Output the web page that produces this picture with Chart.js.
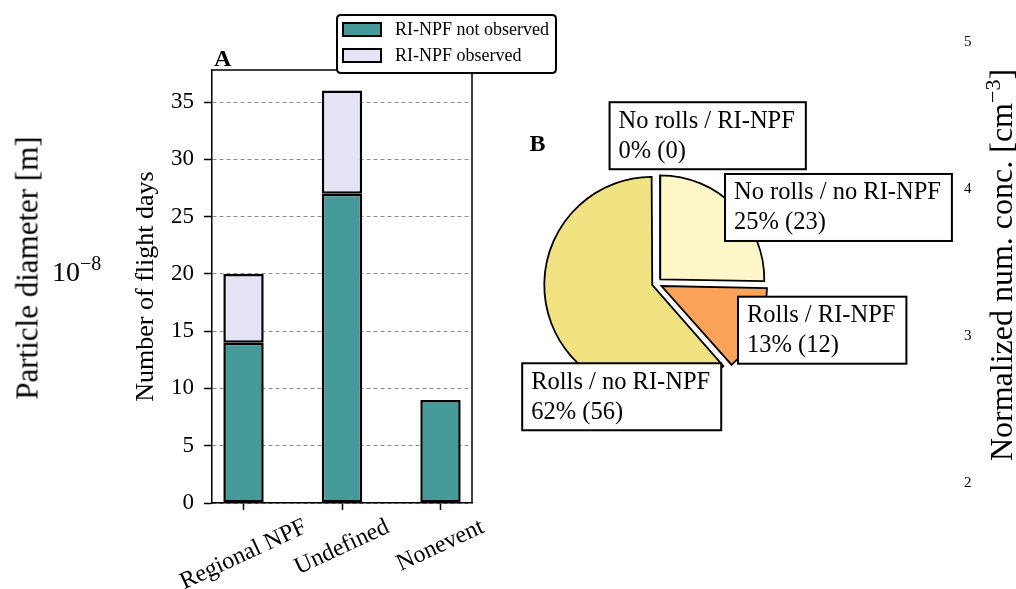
<!DOCTYPE html>
<html><head><meta charset="utf-8">
<script src="https://cdn.jsdelivr.net/npm/chart.js@4.4.1/dist/chart.umd.min.js"></script>
<style>
html,body{margin:0;padding:0;background:#fff;width:1016px;height:589px;overflow:hidden;font-family:'Liberation Serif','Times New Roman',serif;color:#000;}
#barWrap{position:absolute;left:0;top:0;width:560px;height:589px;}
#pieWrap{position:absolute;left:0;top:0;width:1016px;height:589px;}
.txt{position:absolute;white-space:nowrap;line-height:1;}
.rot{transform:translate(-50%,-50%) rotate(-90deg);}
.dig{position:absolute;font-size:15px;line-height:1;transform:translateY(-50%);}
</style></head><body>
<div id="barWrap"><canvas id="bar"></canvas></div>
<div id="pieWrap"><canvas id="pie"></canvas></div>
<div class="txt rot" style="left:27px;top:268px;font-size:31px;">Particle diameter [m]</div>
<div class="txt" style="left:52px;top:258px;font-size:28px;">10<span style="position:relative;top:-11px;font-size:20px;">−8</span></div>
<div class="txt rot" style="left:1001px;top:265px;font-size:32px;">Normalized num. conc. [cm<span style="position:relative;top:-12px;font-size:22px;">−3</span>]</div>
<div class="dig" style="left:964px;top:41px;">5</div>
<div class="dig" style="left:964px;top:188px;">4</div>
<div class="dig" style="left:964px;top:335px;">3</div>
<div class="dig" style="left:964px;top:482px;">2</div>
<script>
// ---- data ----
const categories = ['Regional NPF', 'Undefined', 'Nonevent'];
const notObserved = [14, 27, 9];
const observed = [6, 9, 0];
const seriesNames = ['RI-NPF not observed', 'RI-NPF observed'];
const yTicks = [0, 5, 10, 15, 20, 25, 30, 35];

const pieLabels = ['No rolls / RI-NPF', 'No rolls / no RI-NPF', 'Rolls / RI-NPF', 'Rolls / no RI-NPF'];
const pieCounts = [0, 23, 12, 56];

const SERIF = "'Liberation Serif','Times New Roman',serif";
const teal = '#479a9a', lav = '#e4e4f6';

const barDecor = {
  id: 'barDecor',
  afterDraw(chart) {
    const {ctx, chartArea: a, scales: {x}} = chart;
    ctx.save();
    ctx.strokeStyle = '#000'; ctx.lineWidth = 1.5;
    ctx.beginPath(); ctx.moveTo(a.left, a.top); ctx.lineTo(a.right, a.top); ctx.lineTo(a.right, a.bottom); ctx.stroke();
    // rotated category labels, centred under ticks
    ctx.font = '24px ' + SERIF; ctx.fillStyle = '#000';
    const th = 25 * Math.PI / 180;
    categories.forEach((c, i) => {
      const px = x.getPixelForValue(i);
      const w = ctx.measureText(c).width, h = 24;
      const H = w * Math.sin(th) + h * Math.cos(th);
      const top = a.bottom + 7 + 5;
      ctx.save(); ctx.translate(px, top + H / 2); ctx.rotate(-th);
      ctx.textAlign = 'center'; ctx.textBaseline = 'middle'; ctx.fillText(c, 0, 0); ctx.restore();
    });
    // panel letter
    ctx.font = 'bold 24px ' + SERIF; ctx.textAlign = 'left'; ctx.textBaseline = 'alphabetic';
    ctx.fillText('A', a.left + 2, a.top - 4);
    // legend
    const L = a.left + 125, T = 15;
    ctx.font = '18px ' + SERIF;
    const ds = chart.data.datasets;
    const tw = Math.max(...ds.map(d => ctx.measureText(d.label).width));
    const W = 58 + tw + 7, Hh = 58, r = 4;
    ctx.beginPath();
    ctx.moveTo(L + r, T); ctx.lineTo(L + W - r, T); ctx.quadraticCurveTo(L + W, T, L + W, T + r);
    ctx.lineTo(L + W, T + Hh - r); ctx.quadraticCurveTo(L + W, T + Hh, L + W - r, T + Hh);
    ctx.lineTo(L + r, T + Hh); ctx.quadraticCurveTo(L, T + Hh, L, T + Hh - r);
    ctx.lineTo(L, T + r); ctx.quadraticCurveTo(L, T, L + r, T); ctx.closePath();
    ctx.fillStyle = '#fff'; ctx.fill(); ctx.lineWidth = 2; ctx.strokeStyle = '#000'; ctx.stroke();
    ds.forEach((d, i) => {
      const cy = T + 15 + i * 26;
      ctx.fillStyle = d.backgroundColor; ctx.fillRect(L + 6, cy - 7, 38, 13);
      ctx.lineWidth = 2; ctx.strokeRect(L + 6, cy - 7, 38, 13);
      ctx.fillStyle = '#000'; ctx.textBaseline = 'middle'; ctx.fillText(d.label, L + 58, cy);
    });
    ctx.restore();
  }
};

new Chart(document.getElementById('bar'), {
  type: 'bar',
  data: {
    datasets: [
      {label: seriesNames[0], data: notObserved.map((v, i) => ({x: i, y: v})), backgroundColor: teal},
      {label: seriesNames[1], data: observed.map((v, i) => ({x: i, y: v})), backgroundColor: lav}
    ]
  },
  options: {
    responsive: true, maintainAspectRatio: false, animation: false,
    datasets: {bar: {borderColor: '#000', borderWidth: 2.5, borderSkipped: false, categoryPercentage: 1, barPercentage: 0.41}},
    layout: {padding: {left: 130, top: 70, right: 88, bottom: 0}},
    plugins: {legend: {display: false}, tooltip: {enabled: false}},
    scales: {
      x: {
        type: 'linear', stacked: true, min: -0.32, max: 2.32, offset: false,
        afterBuildTicks: s => { s.ticks = categories.map((c, i) => ({value: i})); },
        afterFit: s => { s.height = 86; },
        ticks: {display: false},
        grid: {offset: false, drawOnChartArea: false, drawTicks: true, tickLength: 7, tickColor: '#000', tickWidth: 1.5},
        border: {color: '#000', width: 1.5}
      },
      y: {
        stacked: true, min: 0, max: 37.8,
        afterBuildTicks: s => { s.ticks = yTicks.map(v => ({value: v})); },
        afterFit: s => { s.width = 82; },
        ticks: {color: '#000', font: {family: SERIF, size: 23}, padding: 10},
        grid: {color: '#8c8c8c', lineWidth: 1, tickLength: 8, tickColor: '#000', tickWidth: 1.5, tickBorderDash: []},
        border: {color: '#000', width: 1.5, dash: [4, 3]},
        title: {display: true, text: 'Number of flight days', color: '#000', font: {family: SERIF, size: 26}, padding: {top: 1, bottom: 0}}
      }
    }
  },
  plugins: [barDecor]
});

// ---- pie ----
const pieColors = ['#f2a0a0', '#fdf7c8', '#fca35a', '#f1e282'];
const labelAnchors = [[-0.36, -1.57], [0.75, -0.88], [0.875, 0.30], [-1.20, 0.94]];
const pieDecor = {
  id: 'pieDecor',
  afterDraw(chart) {
    const {ctx} = chart;
    const meta = chart.getDatasetMeta(0);
    const arc0 = meta.data[0];
    const cx = arc0.x, cy = arc0.y, R = arc0.outerRadius;
    const total = pieCounts.reduce((s, v) => s + v, 0);
    ctx.save();
    // zero-width wedge outline
    const off = 5;
    ctx.strokeStyle = '#000'; ctx.lineWidth = 1.5;
    const ang = arc0.startAngle;
    ctx.beginPath();
    ctx.moveTo(cx + Math.cos(ang) * off + 4, cy + Math.sin(ang) * off);
    ctx.lineTo(cx + Math.cos(ang) * (off + R) + 4, cy + Math.sin(ang) * (off + R));
    ctx.stroke();
    // panel letter
    ctx.fillStyle = '#000'; ctx.font = 'bold 24px ' + SERIF; ctx.textAlign = 'center'; ctx.textBaseline = 'middle';
    ctx.fillText('B', cx - 1.14 * R, cy - 1.33 * R);
    // labels
    ctx.font = '24.5px ' + SERIF; ctx.textAlign = 'left';
    pieLabels.forEach((lab, i) => {
      const pct = Math.round(pieCounts[i] / total * 100);
      const l2 = pct + '% (' + pieCounts[i] + ')';
      const tx = cx + labelAnchors[i][0] * R, ty = cy + labelAnchors[i][1] * R;
      const w = Math.max(ctx.measureText(lab).width, ctx.measureText(l2).width);
      ctx.fillStyle = '#fff';
      ctx.fillRect(tx - 9, ty - 18, w + 20, 67);
      ctx.lineWidth = 2; ctx.strokeStyle = '#000'; ctx.strokeRect(tx - 9, ty - 18, w + 20, 67);
      ctx.fillStyle = '#000';
      ctx.fillText(lab, tx, ty + 1);
      ctx.fillText(l2, tx, ty + 31);
    });
    ctx.restore();
  }
};

new Chart(document.getElementById('pie'), {
  type: 'pie',
  data: {
    labels: pieLabels,
    datasets: [{
      data: pieCounts,
      backgroundColor: pieColors,
      borderColor: '#000', borderWidth: 1.8, borderJoinStyle: 'miter',
      offset: [24, 24, 24, 16]
    }]
  },
  options: {
    responsive: true, maintainAspectRatio: false, animation: false,
    radius: 104,
    layout: {padding: {left: 296, top: 0, right: 0, bottom: 22}},
    plugins: {legend: {display: false}, tooltip: {enabled: false}}
  },
  plugins: [pieDecor]
});
</script>
</body></html>
